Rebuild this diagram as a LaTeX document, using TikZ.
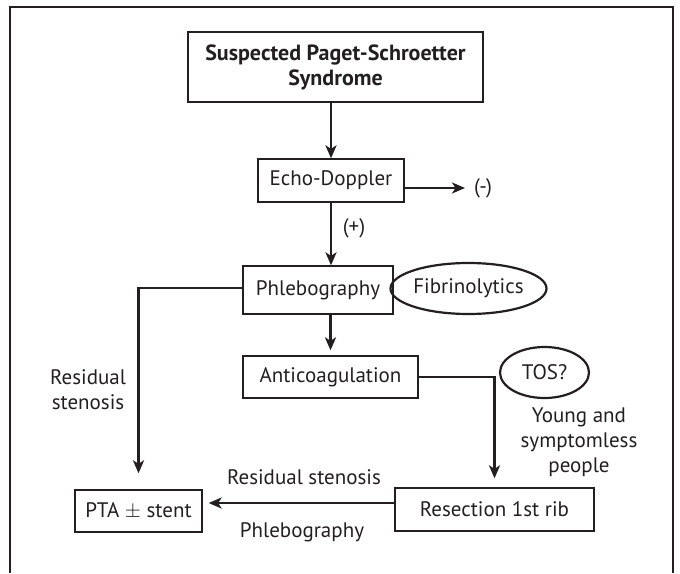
\documentclass[tikz,border=0pt]{standalone}
\usepackage{fontspec}
\setmainfont{PT Sans}
\usetikzlibrary{arrows.meta,shapes.geometric}
\definecolor{ink}{HTML}{231F20}

\begin{document}
\begin{tikzpicture}[x=1pt,y=-1pt,font=\fontsize{21}{25}\selectfont,color=ink,
  box/.style={draw,line width=1.3pt,inner sep=0pt,align=center},
  oval/.style={draw,ellipse,line width=2.2pt,inner sep=0pt},
  lbl/.style={inner sep=0pt,align=center},
  arr/.style={line width=2.4pt,-{Stealth[length=13pt,width=11pt,inset=3.5pt]}}]

\useasboundingbox (0,0) rectangle (680,573);

%frame
\draw[line width=2.6pt] (10,573) -- (10,7) -- (673,7) -- (673,573);

%boxes
\node[box,minimum width=295pt,minimum height=70pt,font=\fontsize{22}{25}\selectfont\bfseries] (susp) at (335.5,67) {Suspected Paget-Schroetter\\Syndrome};
\node[box,minimum width=146pt,minimum height=43pt] (echo) at (331,180.5) {Echo-Doppler};
\node[box,minimum width=150pt,minimum height=48pt] (phleb) at (318,290) {Phlebography};
\node[oval,minimum width=145pt,minimum height=51pt] (fibrin) at (468.5,288.5) {Fibrinolytics};
\node[box,minimum width=175pt,minimum height=42pt] (anti) at (330.5,377) {Anticoagulation};
\node[oval,minimum width=89pt,minimum height=51pt] (tos) at (544.5,372.5) {TOS?};
\node[box,minimum width=127pt,minimum height=42pt] (pta) at (138.5,511) {PTA $\pm$ stent};
\node[box,minimum width=199pt,minimum height=43pt] (resect) at (494.5,509.5) {Resection 1st rib};

%labels
\coordinate (negtip) at (465,188);
\node[lbl,anchor=west] (neg) at (474,188) {(-)};
\node[lbl] (pos) at (354,228) {(+)};
\node[lbl] (resid) at (88,390) {Residual\\stenosis};
\node[lbl] (young) at (579,442) {Young and\\symptomless\\people};
\node[lbl] (residb) at (304,477) {Residual stenosis};
\node[lbl] (phlebb) at (302,532) {Phlebography};

%arrows
\draw[arr] (echo.north |- susp.south) -- (echo.north);
\draw[arr] ([yshift=-7.5pt]echo.east) -- (negtip);
\draw[arr] (echo.south) -- (echo.south |- phleb.north);
\draw[arr,shorten >=16pt] ([yshift=2pt]phleb.west) -| (pta.north);
\draw[arr,shorten >=5pt] (anti.north |- phleb.south) -- (anti.north);
\draw[arr,shorten >=9pt] (anti.east) -| (resect.north);
\draw[arr,shorten >=6pt] ([yshift=6.5pt]resect.west) -- ([yshift=6.5pt]resect.west -| pta.east);

\end{tikzpicture}
\end{document}
